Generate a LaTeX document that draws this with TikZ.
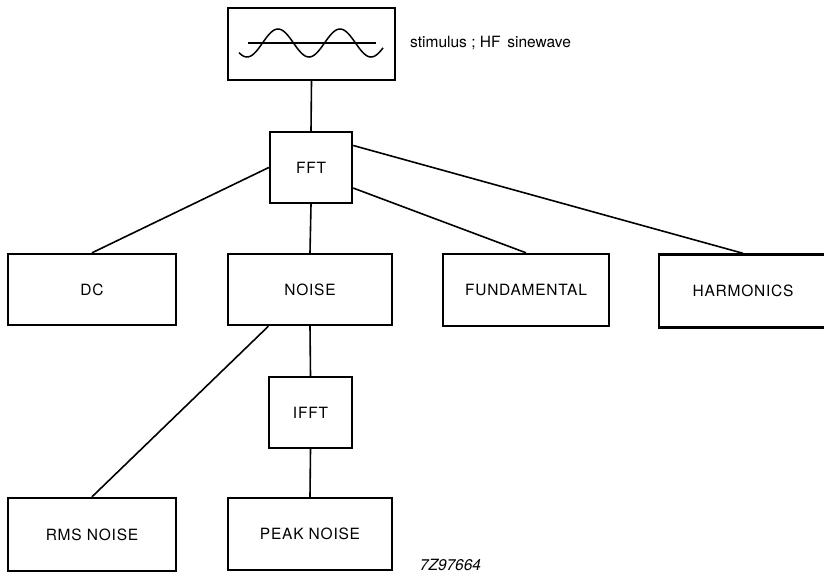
\documentclass[tikz,border=0pt]{standalone}
\usepackage{fontspec}
\setmainfont{TeX Gyre Heros}
\newfontfamily\boxfont{TeX Gyre Heros}[LetterSpace=5]
\usetikzlibrary{calc}
\tikzset{
  blk/.style={draw, line width=2.4pt, rectangle, inner sep=0pt,
    font=\boxfont\fontsize{15.5}{17}\selectfont},
  conn/.style={line width=1.6pt},
  note/.style={font=\fontsize{15.5}{17}\selectfont, inner sep=0pt}
}
\begin{document}
\begin{tikzpicture}[x=1pt,y=-1pt]
\clip (0,0) rectangle (824,574);
\fill[white] (0,0) rectangle (824,574);
% boxes
\node[blk, minimum width=167pt, minimum height=72pt] (stim) at (311.5,44) {};
\node[blk, minimum width=82pt, minimum height=71pt] (fft) at (311,167.5) {FFT};
\node[blk, minimum width=168pt, minimum height=71pt] (dc) at (92,289.5) {DC};
\node[blk, minimum width=164pt, minimum height=71pt] (noise) at (310,289.5) {NOISE};
\node[blk, minimum width=166pt, minimum height=72pt] (fund) at (526,290) {FUNDAMENTAL};
\node[blk, minimum width=168pt, minimum height=73pt] (harm) at (743,291) {HARMONICS};
\node[blk, minimum width=83pt, minimum height=71pt] (ifft) at (310.5,412.5) {IFFT};
\node[blk, minimum width=168pt, minimum height=73pt] (rms) at (92,534.5) {RMS NOISE};
\node[blk, minimum width=164pt, minimum height=72pt] (peak) at (310,534) {PEAK NOISE};
% sinewave in stimulus box
\draw[line width=1.5pt] (248,43) -- (376,43);
\draw[line width=1.5pt, domain=239:383, samples=120, smooth]
  plot (\x, {43 + 14*cos((\x-309)/62*360)});
% labels
\node[note, anchor=west] (stimlbl) at (410,43) {stimulus ; HF\,\ sinewave};
\node[note, anchor=center] (fig) at (450.5,565) {\itshape 7Z97664};
% connectors
\draw[conn] (stim.south) -- (fft.north);
\draw[conn] (fft.west) -- (dc.north);
\draw[conn] (fft.south) -- (noise.north);
\draw[conn] ($(fft.north east)!0.78!(fft.south east)$) -- (fund.north);
\draw[conn] ($(fft.north east)!0.2!(fft.south east)$) -- (harm.north);
\draw[conn] ($(noise.south west)!0.25!(noise.south east)$) -- (rms.north);
\draw[conn] (noise.south) -- (ifft.north);
\draw[conn] (ifft.south) -- (peak.north);
\end{tikzpicture}
\end{document}
